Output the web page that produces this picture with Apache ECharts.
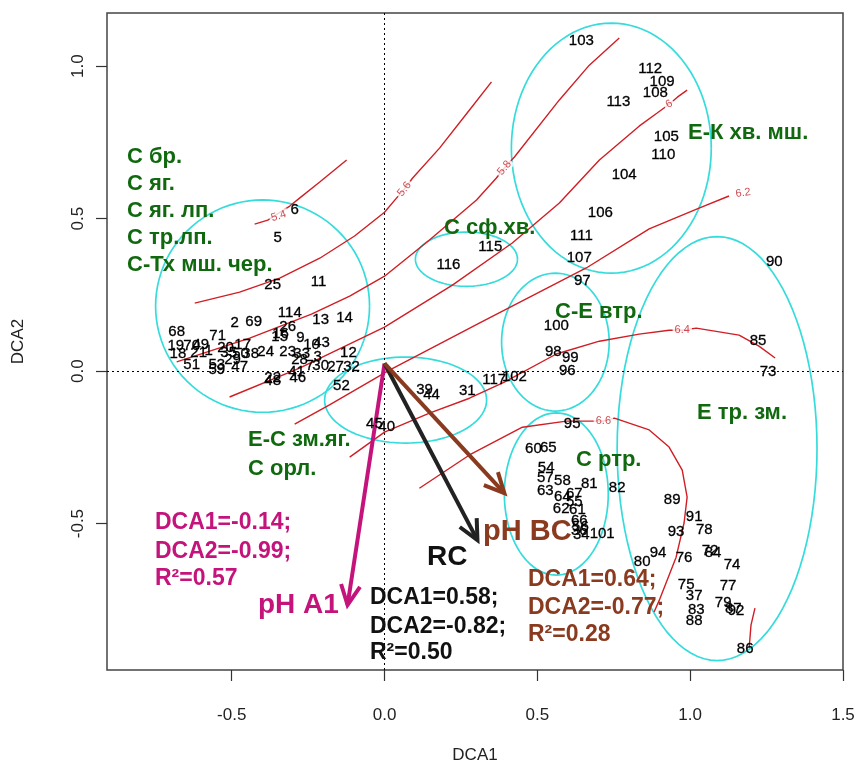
<!DOCTYPE html>
<html><head><meta charset="utf-8">
<script src="https://cdn.jsdelivr.net/npm/echarts@6/dist/echarts.min.js"></script>
<style>html,body{margin:0;padding:0;background:#fff}#c{width:859px;height:769px}</style>
</head><body><div id="c"></div>
<script>
// ---- site scores (DCA1, DCA2) ----
const siteLabels = ['6','5','25','11','114','13','14','2','69','26','16','15','68','71','9','10','43','19','70','49','18','21','1','51','53','59','47','20','17','35','50','38','29','24','23','33','28','3','7','30','27','32','12','46','41','22','48','52','39','44','31','117','102','45','40','116','115','103','112','109','108','113','105','110','104','106','111','107','97','100','98','99','96','90','85','73','95','60','65','54','57','58','63','81','82','64','67','55','62','61','66','56','36','34','101','89','91','93','78','72','84','74','94','80','76','77','75','37','79','87','92','83','88','86'];
const siteDCA1 = [-0.294,-0.350,-0.366,-0.216,-0.310,-0.209,-0.131,-0.490,-0.428,-0.317,-0.340,-0.343,-0.680,-0.546,-0.275,-0.239,-0.206,-0.683,-0.631,-0.601,-0.676,-0.608,-0.575,-0.631,-0.549,-0.549,-0.474,-0.520,-0.464,-0.510,-0.471,-0.438,-0.497,-0.389,-0.317,-0.271,-0.278,-0.219,-0.245,-0.209,-0.160,-0.108,-0.118,-0.284,-0.288,-0.366,-0.366,-0.141,0.131,0.154,0.271,0.359,0.425,-0.033,0.007,0.209,0.346,0.644,0.869,0.908,0.886,0.765,0.922,0.912,0.784,0.706,0.644,0.637,0.647,0.562,0.552,0.608,0.598,1.275,1.222,1.255,0.614,0.487,0.536,0.529,0.526,0.582,0.526,0.670,0.761,0.582,0.621,0.621,0.578,0.631,0.637,0.641,0.637,0.644,0.712,0.941,1.013,0.954,1.046,1.065,1.075,1.137,0.895,0.843,0.980,1.124,0.987,1.013,1.108,1.141,1.150,1.020,1.013,1.180];
const siteDCA2 = [0.528,0.436,0.282,0.292,0.190,0.167,0.174,0.157,0.161,0.144,0.121,0.111,0.128,0.115,0.108,0.085,0.092,0.082,0.082,0.085,0.056,0.059,0.066,0.020,0.020,0.003,0.013,0.075,0.085,0.059,0.056,0.056,0.036,0.062,0.062,0.056,0.036,0.046,0.016,0.016,0.013,0.013,0.059,-0.023,-0.003,-0.023,-0.033,-0.049,-0.062,-0.079,-0.066,-0.030,-0.020,-0.174,-0.184,0.348,0.407,1.082,0.990,0.948,0.911,0.882,0.767,0.708,0.643,0.518,0.443,0.370,0.295,0.148,0.062,0.043,0.000,0.357,0.098,-0.003,-0.174,-0.256,-0.252,-0.318,-0.351,-0.361,-0.393,-0.370,-0.384,-0.413,-0.403,-0.430,-0.452,-0.456,-0.492,-0.511,-0.525,-0.538,-0.534,-0.423,-0.479,-0.528,-0.521,-0.590,-0.597,-0.636,-0.597,-0.626,-0.613,-0.705,-0.702,-0.738,-0.761,-0.780,-0.787,-0.784,-0.820,-0.911];

// ---- pH contour lines (isolines) ----
const contourLevels = ['5.4','5.6','5.8','6','6.2','6.4','6.6','6.8'];
const contour54 = [[-0.425,0.482],[-0.382,0.495],[-0.310,0.541],[-0.278,0.567],[-0.212,0.620],[-0.124,0.692]];
const contour56 = [[-0.621,0.223],[-0.474,0.259],[-0.343,0.305],[-0.212,0.370],[-0.098,0.443],[0,0.521],[0.039,0.567],[0.065,0.597],[0.092,0.633],[0.180,0.731],[0.278,0.856],[0.350,0.948]];
const contour58 = [[-0.680,0.030],[-0.441,0.108],[-0.239,0.187],[-0.114,0.246],[0,0.311],[0.147,0.430],[0.301,0.561],[0.366,0.633],[0.392,0.666],[0.425,0.702],[0.572,0.889],[0.670,1.003],[0.768,1.092]];
const contour60 = [[-0.507,-0.085],[-0.278,0.010],[0,0.144],[0.222,0.282],[0.418,0.420],[0.572,0.551],[0.703,0.692],[0.833,0.803],[0.892,0.846],[0.931,0.875],[0.958,0.898],[0.990,0.921]];
const contour62 = [[-0.294,-0.174],[-0.180,-0.111],[0.016,0.003],[0.310,0.157],[0.660,0.338],[0.866,0.466],[1.029,0.534],[1.127,0.574]];
const contour64 = [[-0.114,-0.282],[0,-0.200],[0.147,-0.138],[0.278,-0.089],[0.392,-0.036],[0.562,0.056],[0.703,0.098],[0.833,0.121],[0.931,0.134],[0.974,0.134],[1.020,0.141],[1.160,0.118],[1.225,0.082],[1.278,0.043]];
const contour66 = [[0.114,-0.384],[0.278,-0.275],[0.451,-0.184],[0.595,-0.164],[0.716,-0.164],[0.752,-0.154],[0.866,-0.193],[0.931,-0.249],[0.974,-0.325],[0.990,-0.413],[0.980,-0.498],[0.954,-0.610],[0.899,-0.751],[0.882,-0.790]];
const contour68 = [[1.212,-0.777],[1.199,-0.833],[1.193,-0.908]];
const contourPaths = [contour54,contour56,contour58,contour60,contour62,contour64,contour66,contour68];
const contourLabelAt = [[-0.346,0.508],[0.065,0.597],[0.392,0.666],[0.931,0.875],[1.173,0.584],[0.974,0.134],[0.716,-0.164]];
const contourLabelAngle = [17,52,50,30,8,0,0];

// ---- community group ellipses: centre DCA1, DCA2, radius DCA1, radius DCA2 ----
const ellipseCX = [-0.399,0.742,0.268,0.559,0.069,0.562,1.088];
const ellipseCY = [0.213,0.731,0.367,0.095,-0.095,-0.403,-0.254];
const ellipseRX = [0.350,0.327,0.167,0.176,0.265,0.170,0.327];
const ellipseRY = [0.348,0.410,0.089,0.226,0.141,0.266,0.695];

// ---- environmental vectors ----
const vectorNames = ['pH A1','RC','pH BC'];
const vectorStart = [0, 0.025];
const vectorDCA1 = [-0.121, 0.304, 0.392];
const vectorDCA2 = [-0.767, -0.554, -0.400];
const vectorColors = ['#C4147C','#222222','#8A3A1E'];

// ---- axes ----
const xTicks = [-0.5, 0, 0.5, 1.0, 1.5];
const yTicks = [-0.5, 0, 0.5, 1.0];

const FONT = 'Liberation Sans, Arial, sans-serif';
const GREEN = '#11690F', MAG = '#C4147C', BROWN = '#8A3A1E', BLK = '#111';

const notes = [
  ['С бр.',127,157,GREEN,22],['С яг.',127,184,GREEN,22],['С яг. лп.',127,211,GREEN,22],
  ['С тр.лп.',127,238,GREEN,22],['С-Тх мш. чер.',127,265,GREEN,22],
  ['С сф.хв.',444,228,GREEN,22],['Е-К хв. мш.',688,133,GREEN,22],['С-Е втр.',555,312,GREEN,22],
  ['Е тр. зм.',697,413,GREEN,22],['С ртр.',576,460,GREEN,22],
  ['Е-С зм.яг.',248,440,GREEN,22],['С орл.',248,469,GREEN,22],
  ['DCA1=-0.14;',155,523,MAG,23],['DCA2=-0.99;',155,552,MAG,23],['R²=0.57',155,579,MAG,23],
  ['pH A1',258,605,MAG,28],
  ['RC',427,557,BLK,28],
  ['DCA1=0.58;',370,598,BLK,23],['DCA2=-0.82;',370,627,BLK,23],['R²=0.50',370,653,BLK,23],
  ['pH BC',483,532,BROWN,29],
  ['DCA1=0.64;',528,580,BROWN,23],['DCA2=-0.77;',528,608,BROWN,23],['R²=0.28',528,635,BROWN,23]
];

const chart = echarts.init(document.getElementById('c'), null, {renderer:'canvas'});

const series = [];
// ellipses
series.push({
  type:'custom', silent:true, z:2,
  data: ellipseCX.map((c,i)=>[c, ellipseCY[i], ellipseRX[i], ellipseRY[i]]),
  encode:{x:0,y:1},
  renderItem:(params, api)=>{
    const cx=api.value(0), cy=api.value(1), rx=api.value(2), ry=api.value(3);
    const pts=[];
    for(let k=0;k<=96;k++){const t=k/96*2*Math.PI; pts.push(api.coord([cx+rx*Math.cos(t), cy+ry*Math.sin(t)]));}
    return {type:'polyline', shape:{points:pts}, style:{stroke:'#36DCDC', lineWidth:1.7, fill:null}};
  }
});
// contours
contourPaths.forEach((p,i)=>{
  series.push({type:'line', data:p, showSymbol:false, symbol:'none', silent:true, z:3,
    lineStyle:{color:'#D01E24', width:1.4}, animation:false});
});
// contour labels
series.push({
  type:'scatter', silent:true, z:4, symbolSize:0,
  data: contourLabelAt.map((p,i)=>({value:p, label:{formatter:contourLevels[i], rotate:contourLabelAngle[i]}})),
  label:{show:true, position:'inside', fontSize:11, fontFamily:FONT, color:'#C02028', backgroundColor:'#fff', padding:[0,2]}
});
// vectors
series.push({
  type:'custom', silent:true, z:5,
  data: vectorDCA1.map((x,i)=>[vectorStart[0], vectorStart[1], x, vectorDCA2[i]]),
  encode:{x:[0,2], y:[1,3]},
  renderItem:(params, api)=>{
    const p0=api.coord([api.value(0), api.value(1)]);
    const p1=api.coord([api.value(2), api.value(3)]);
    const ang=Math.atan2(p1[1]-p0[1], p1[0]-p0[0]);
    const L=22, a=0.45;
    const h1=[p1[0]-L*Math.cos(ang-a), p1[1]-L*Math.sin(ang-a)];
    const h2=[p1[0]-L*Math.cos(ang+a), p1[1]-L*Math.sin(ang+a)];
    const col=vectorColors[params.dataIndex];
    return {type:'group', children:[
      {type:'line', shape:{x1:p0[0],y1:p0[1],x2:p1[0],y2:p1[1]}, style:{stroke:col, lineWidth:4}},
      {type:'polyline', shape:{points:[h1,p1,h2]}, style:{stroke:col, lineWidth:4, fill:null, lineJoin:'miter'}}
    ]};
  }
});
// sites
series.push({
  type:'scatter', silent:true, z:6, symbolSize:0, itemStyle:{color:'#000', opacity:1},
  data: siteLabels.map((l,i)=>({name:l, value:[siteDCA1[i], siteDCA2[i]]})),
  label:{show:true, position:'inside', formatter:'{b}', fontSize:15, fontFamily:FONT, color:'#000', opacity:1,
    textBorderColor:'#000', textBorderWidth:0.3},
  markLine:{silent:true, symbol:'none', label:{show:false}, animation:false,
    lineStyle:{color:'#000', type:[2,3], width:1},
    data:[{xAxis:0},{yAxis:0}]}
});

chart.setOption({
  animation:false,
  backgroundColor:'#fff',
  grid:{left:107, right:16, top:13, bottom:99, show:true, borderColor:'#444', borderWidth:1.5, containLabel:false},
  xAxis:{type:'value', min:-0.908, max:1.5,
    axisLine:{show:false, onZero:false}, splitLine:{show:false},
    axisTick:{show:true, length:11, lineStyle:{color:'#333', width:1.2}, customValues:xTicks},
    axisLabel:{customValues:xTicks, formatter:v=>v.toFixed(1), fontSize:17, fontFamily:FONT, color:'#222', margin:37},
    name:'DCA1', nameLocation:'middle', nameGap:77, nameTextStyle:{fontSize:17, fontFamily:FONT, color:'#222'}},
  yAxis:{type:'value', min:-0.98, max:1.174,
    axisLine:{show:false, onZero:false}, splitLine:{show:false},
    axisTick:{show:true, length:11, lineStyle:{color:'#333', width:1.2}, customValues:yTicks},
    axisLabel:{customValues:yTicks, formatter:v=>v.toFixed(1), fontSize:17, fontFamily:FONT, color:'#222', rotate:90, align:'center', verticalAlign:'bottom', margin:20},
    name:'DCA2', nameLocation:'middle', nameGap:80, nameRotate:90, nameTextStyle:{fontSize:17, fontFamily:FONT, color:'#222'}},
  series:series,
  graphic: notes.map(n=>({type:'text', x:n[1], y:n[2], z:100, silent:true,
    style:{text:n[0], fill:n[3], font:'bold '+n[4]+'px '+FONT, verticalAlign:'middle', align:'left'}}))
});
</script></body></html>
